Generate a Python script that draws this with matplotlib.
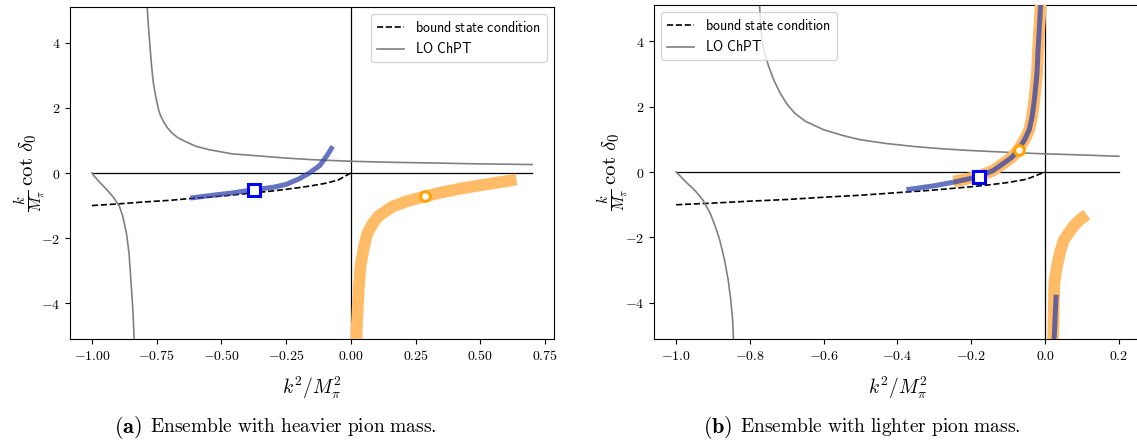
import matplotlib
matplotlib.use('Agg')
import matplotlib.pyplot as plt

plt.rcParams['mathtext.fontset'] = 'cm'
plt.rcParams['font.family'] = 'DejaVu Sans'

# bound state condition (same for both panels)
bs_x = [-1.0, -0.9, -0.8, -0.7, -0.6, -0.5, -0.4, -0.3, -0.2, -0.15, -0.1, -0.05, 0.0]
bs_y = [-1.0, -0.95, -0.89, -0.84, -0.77, -0.71, -0.63, -0.55, -0.45, -0.39, -0.32, -0.22, 0.0]

# (a) heavier pion mass
a_lo1_x = [-1.0, -0.991, -0.970, -0.943, -0.915, -0.894, -0.881, -0.867, -0.857, -0.849, -0.842, -0.835]
a_lo1_y = [0.0, -0.10, -0.29, -0.51, -0.77, -1.03, -1.33, -1.85, -2.46, -3.38, -4.2, -5.5]
a_lo2_x = [-0.789, -0.787, -0.782, -0.777, -0.770, -0.763, -0.756, -0.750, -0.743, -0.736, -0.725,
           -0.708, -0.690, -0.667, -0.640, -0.598, -0.55, -0.46, -0.35, -0.253, -0.15, 0.0, 0.15, 0.30,
           0.50, 0.70]
a_lo2_y = [6.0, 5.13, 4.5, 4.0, 3.3, 2.77, 2.45, 2.2, 1.95, 1.78, 1.6,
           1.38, 1.22, 1.08, 0.97, 0.82, 0.72, 0.59, 0.52, 0.46, 0.41, 0.36, 0.33, 0.31,
           0.28, 0.26]
a_blue_x = [-0.62, -0.53, -0.455, -0.373, -0.30, -0.25, -0.20, -0.16, -0.12, -0.09, -0.07]
a_blue_y = [-0.77, -0.68, -0.61, -0.51, -0.44, -0.35, -0.18, 0.0, 0.23, 0.56, 0.82]
a_orange_x = [0.018, 0.022, 0.030, 0.037, 0.050, 0.064, 0.085, 0.106, 0.161, 0.22, 0.285, 0.36, 0.437, 0.53, 0.64]
a_orange_y = [-6.0, -4.9, -3.6, -2.87, -2.3, -1.85, -1.55, -1.33, -1.03, -0.86, -0.72, -0.58, -0.46, -0.34, -0.20]
a_square = (-0.373, -0.51)
a_circle = (0.285, -0.72)
a_zero_x = [-1.0, 0.7]

# (b) lighter pion mass
b_lo1_x = [-1.0, -0.991, -0.972, -0.947, -0.928, -0.908, -0.894, -0.882, -0.869, -0.859, -0.852, -0.847, -0.843]
b_lo1_y = [0.0, -0.10, -0.32, -0.59, -0.85, -1.25, -1.66, -2.07, -2.68, -3.29, -3.90, -4.51, -5.5]
b_lo2_x = [-0.777, -0.774, -0.771, -0.766, -0.758, -0.749, -0.735, -0.718, -0.700, -0.679, -0.65,
           -0.60, -0.55, -0.503, -0.43, -0.356, -0.28, -0.209, -0.10, -0.014, 0.10, 0.20]
b_lo2_y = [6.0, 5.1, 4.5, 3.94, 3.55, 3.22, 2.8, 2.41, 2.08, 1.80, 1.55,
           1.29, 1.12, 0.99, 0.87, 0.78, 0.71, 0.66, 0.60, 0.56, 0.52, 0.48]
b_orange1_x = [-0.248, -0.215, -0.18, -0.14, -0.112, -0.09, -0.072, -0.055, -0.043, -0.035, -0.029, -0.022, -0.019, -0.015, -0.012, -0.010]
b_orange1_y = [-0.29, -0.22, -0.13, 0.05, 0.27, 0.45, 0.68, 1.0, 1.29, 1.7, 2.21, 3.0, 3.74, 4.5, 5.1, 6.0]
b_orange2_x = [0.020, 0.022, 0.025, 0.032, 0.040, 0.050, 0.064, 0.080, 0.094, 0.113]
b_orange2_y = [-6.0, -5.1, -3.39, -2.9, -2.47, -2.1, -1.86, -1.62, -1.46, -1.30]
b_blue1_x = [-0.376, -0.30, -0.248, -0.215, -0.18, -0.14, -0.112, -0.09, -0.072, -0.055, -0.043, -0.035, -0.029, -0.022, -0.019, -0.015, -0.012, -0.010]
b_blue1_y = [-0.54, -0.42, -0.31, -0.23, -0.14, 0.05, 0.27, 0.45, 0.68, 1.0, 1.29, 1.7, 2.21, 3.0, 3.74, 4.5, 5.1, 6.0]
b_blue2_x = [0.021, 0.030]
b_blue2_y = [-6.0, -3.75]
b_square = (-0.18, -0.15)
b_circle = (-0.072, 0.68)
b_zero_x = [-1.0, 0.2]

a_xticks = [-1.0, -0.75, -0.5, -0.25, 0.0, 0.25, 0.5, 0.75]
a_xticklabels = ['-1.00', '-0.75', '-0.50', '-0.25', '0.00', '0.25', '0.50', '0.75']
b_xticks = [-1.0, -0.8, -0.6, -0.4, -0.2, 0.0, 0.2]
b_xticklabels = ['-1.0', '-0.8', '-0.6', '-0.4', '-0.2', '0.0', '0.2']
yticks = [-4, -2, 0, 2, 4]
yticklabels = ['-4', '-2', '0', '2', '4']

ORANGE = '#ffbb66'
BLUE = '#3344aa'


def panel(ax, lo1, lo2, bands, blues, square, circle, zero_x, xticks, xticklabels, legloc):
    ax.plot(zero_x, [0, 0], color='k', lw=0.9, zorder=1)
    ax.axvline(0, color='k', lw=0.9, zorder=1)
    ax.plot(bs_x, bs_y, 'k--', lw=1.2, zorder=2, label=r'$\mathsf{bound\ state\ condition}$')
    ax.plot(lo1[0], lo1[1], color='gray', lw=1.2, zorder=2, label=r'$\mathsf{LO\ ChPT}$')
    ax.plot(lo2[0], lo2[1], color='gray', lw=1.2, zorder=2)
    for bx, by in bands:
        ax.plot(bx, by, color=ORANGE, lw=8.5, solid_capstyle='butt', zorder=3)
    for bx, by in blues:
        ax.plot(bx, by, color=BLUE, lw=3.6, alpha=0.75, solid_capstyle='butt', zorder=4)
    ax.plot(*square, 's', ms=8, mfc='white', mec='blue', mew=2.2, zorder=5)
    ax.plot(*circle, 'o', ms=7, mfc='white', mec='orange', mew=2.2, zorder=5)
    ax.set_ylim(-5.1, 5.1)
    ax.set_xticks(xticks)
    ax.set_xticklabels(['$' + t + '$' for t in xticklabels], fontsize=10)
    ax.set_yticks(yticks)
    ax.set_yticklabels(['$' + t + '$' for t in yticklabels], fontsize=10)
    ax.set_xlabel(r'$k^2/M_\pi^2$', fontsize=14, labelpad=9)
    ax.set_ylabel(r'$\frac{k}{M_\pi}\,\cot\,\delta_0$', fontsize=15)
    ax.legend(loc=legloc, fontsize=10)


fig = plt.figure(figsize=(11.37, 4.40), dpi=100)
ax1 = fig.add_axes([70 / 1137, 1 - 339 / 440, 484 / 1137, 332 / 440])
ax2 = fig.add_axes([654 / 1137, 1 - 339 / 440, 487 / 1137, 334 / 440])

panel(ax1, (a_lo1_x, a_lo1_y), (a_lo2_x, a_lo2_y), [(a_orange_x, a_orange_y)],
      [(a_blue_x, a_blue_y)], a_square, a_circle, a_zero_x, a_xticks, a_xticklabels, 'upper right')
ax1.set_xlim(-1.085, 0.785)
ax1.yaxis.set_label_coords(-0.045, 0.5)

panel(ax2, (b_lo1_x, b_lo1_y), (b_lo2_x, b_lo2_y), [(b_orange1_x, b_orange1_y), (b_orange2_x, b_orange2_y)],
      [(b_blue1_x, b_blue1_y), (b_blue2_x, b_blue2_y)], b_square, b_circle, b_zero_x, b_xticks, b_xticklabels, 'upper left')
ax2.set_xlim(-1.06, 0.26)
ax2.yaxis.set_label_coords(-0.048, 0.5)

cap_y = 1 - 427 / 440
fig.text(142 / 1137, cap_y, r'$\mathbf{(a)}$', ha='right', va='center', fontsize=16)
fig.text(150 / 1137, cap_y, r'$\mathrm{Ensemble\ with\ heavier\ pion\ mass.}$', ha='left', va='center', fontsize=14)
fig.text(732 / 1137, cap_y, r'$\mathbf{(b)}$', ha='right', va='center', fontsize=16)
fig.text(740 / 1137, cap_y, r'$\mathrm{Ensemble\ with\ lighter\ pion\ mass.}$', ha='left', va='center', fontsize=14)

fig.savefig('out.png', dpi=100)
